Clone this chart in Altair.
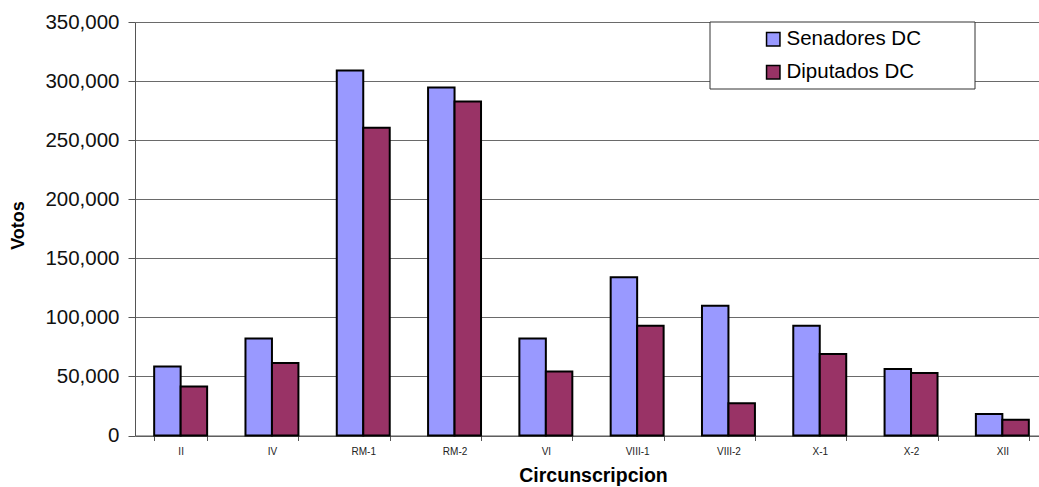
import altair as alt
import pandas as pd

# Votes for the DC party by electoral district
circunscripciones = ["II", "IV", "RM-1", "RM-2", "VI", "VIII-1", "VIII-2", "X-1", "X-2", "XII"]
series = ["Senadores DC", "Diputados DC"]
senadores = [58500, 82000, 309000, 294500, 82000, 134000, 109800, 93000, 56200, 18100]
diputados = [41500, 61300, 260500, 282800, 54200, 92900, 27400, 68900, 52800, 13300]
colores = ["#9999FF", "#993366"]
y_ticks = [0, 50000, 100000, 150000, 200000, 250000, 300000, 350000]

rows = []
for c, s, d in zip(circunscripciones, senadores, diputados):
    rows.append({"Circunscripcion": c, "Serie": series[0], "Votos": s})
    rows.append({"Circunscripcion": c, "Serie": series[1], "Votos": d})
df = pd.DataFrame(rows)

FONT = "Liberation Sans"

bars = alt.Chart(df).mark_bar(stroke="black", strokeWidth=2).encode(
    x=alt.X(
        "Circunscripcion:N",
        sort=circunscripciones,
        scale=alt.Scale(range=[0, 913], paddingInner=0.42, paddingOuter=0.21),
        axis=alt.Axis(
            title="Circunscripcion",
            labelAngle=0,
            tickBand="extent",
            labelFontSize=10,
            labelColor="#222222",
            labelPadding=6,
            tickSize=5,
            tickColor="#555555",
            domainColor="#555555",
            titleFontSize=19.5,
            titleFontWeight="bold",
            titleColor="black",
            titleX=458,
            titleY=40,
            titleBaseline="middle",
        ),
    ),
    xOffset=alt.XOffset("Serie:N", sort=series, scale=alt.Scale(paddingInner=0, paddingOuter=0)),
    y=alt.Y(
        "Votos:Q",
        scale=alt.Scale(domain=[0, 350000], nice=False),
        axis=alt.Axis(
            title="Votos",
            values=y_ticks,
            format=",.0f",
            labelFontSize=20.5,
            labelColor="#111111",
            labelPadding=9,
            tickSize=7,
            tickColor="#555555",
            domainColor="#555555",
            gridColor="#6a6a6a",
            gridWidth=1,
            titleFontSize=18,
            titleFontWeight="bold",
            titleColor="black",
            titleX=-117,
            titleY=203,
            titleAlign="center",
            titleBaseline="middle",
        ),
    ),
    color=alt.Color(
        "Serie:N",
        sort=series,
        scale=alt.Scale(domain=series, range=colores),
        legend=alt.Legend(
            title=None,
            orient="none",
            legendX=628,
            legendY=7,
            symbolType="square",
            symbolSize=180,
            symbolStrokeColor="black",
            symbolStrokeWidth=1.5,
            symbolOpacity=1,
            labelFontSize=20.5,
            labelColor="black",
            labelOffset=3,
            rowPadding=12,
        ),
    ),
)

# white framed box behind the legend entries
legend_box = alt.Chart(pd.DataFrame({"k": [0]})).mark_rect(
    fill="white", stroke="#333333", strokeWidth=1
).encode(
    x=alt.value(575), x2=alt.value(840), y=alt.value(0), y2=alt.value(67)
)

chart = alt.layer(bars, legend_box).properties(
    width=904,
    height=413.5,
    autosize=alt.AutoSizeParams(type="none"),
    padding={"left": 135, "top": 22, "right": 0, "bottom": 51.5},
).configure(
    font=FONT,
).configure_view(
    stroke=None,
)

chart.save("out.html", embed_options={"renderer": "svg", "actions": False})
